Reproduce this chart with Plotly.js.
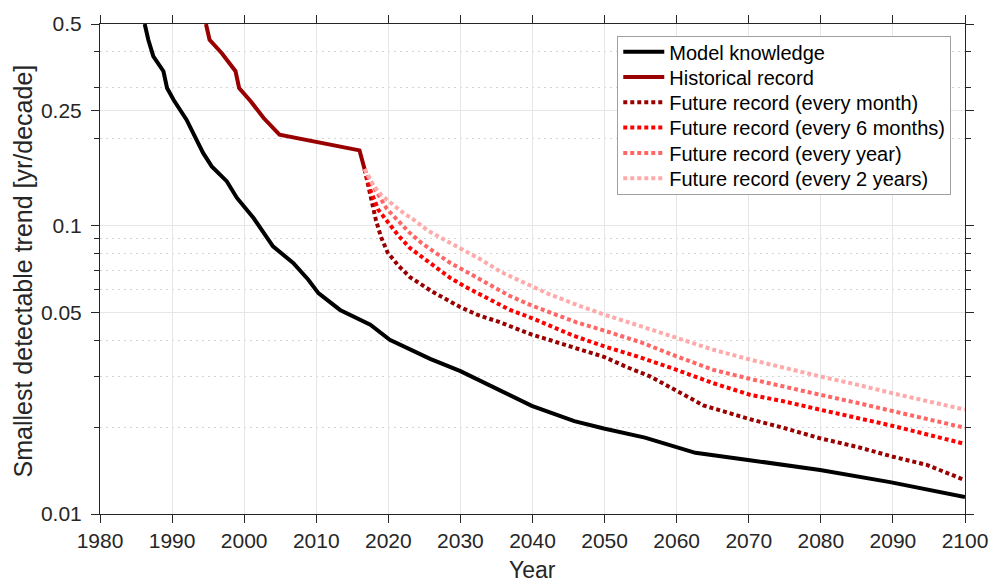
<!DOCTYPE html>
<html>
<head>
<meta charset="utf-8">
<script src="https://cdn.plot.ly/plotly-3.0.1.min.js"></script>
<style>html,body{margin:0;padding:0;background:#fff;}#chart{width:990px;height:581px;}</style>
</head>
<body>
<div id="chart"></div>
<script>
// Model knowledge
const modelYears = [1986.2, 1986.7, 1987.4, 1988.8, 1989.3, 1990.2, 1992.0, 1993.0, 1994.3, 1995.5, 1997.6, 1999.0, 2001.3, 2004.0, 2006.8, 2008.9, 2010.3, 2013.3, 2017.5, 2020.2, 2025.8, 2030.0, 2035.0, 2039.9, 2045.8, 2049.9, 2055.6, 2062.6, 2069.9, 2079.9, 2089.6, 2100];
const modelVals  = [0.5, 0.441, 0.386, 0.343, 0.300, 0.273, 0.233, 0.209, 0.1786, 0.1604, 0.1423, 0.1247, 0.1062, 0.0847, 0.0742, 0.0649, 0.0583, 0.0510, 0.0453, 0.0402, 0.0345, 0.0313, 0.0273, 0.0237, 0.0210, 0.0198, 0.0184, 0.0163, 0.0154, 0.0142, 0.0129, 0.01145];

// Historical record
const histYears = [1994.7, 1995.2, 1996.9, 1998.8, 1999.3, 2000.9, 2002.7, 2004.9, 2016.0, 2016.7];
const histVals  = [0.5, 0.441, 0.396, 0.343, 0.300, 0.270, 0.236, 0.2066, 0.1823, 0.157];

// Future record (every month)
const monthYears = [2016.7, 2017.2, 2017.7, 2018.3, 2019.0, 2019.9, 2021.4, 2023.0, 2026.0, 2029.9, 2032.3, 2035.5, 2039.9, 2044.3, 2047.5, 2050.0, 2053.1, 2056.3, 2059.5, 2061.4, 2063.7, 2066.9, 2070.2, 2074.8, 2079.9, 2085.0, 2090.0, 2094.7, 2097.5, 2100];
const monthVals  = [0.157, 0.139, 0.120, 0.104, 0.091, 0.0807, 0.0726, 0.0663, 0.0592, 0.0523, 0.0491, 0.0462, 0.0419, 0.0389, 0.0366, 0.0350, 0.0323, 0.0300, 0.0273, 0.0256, 0.0238, 0.0225, 0.0213, 0.0199, 0.0183, 0.0171, 0.0158, 0.0148, 0.0139, 0.0131];

// Future record (every 6 months)
const sixMonthYears = [2016.7, 2017.5, 2018.6, 2019.9, 2021.4, 2023.0, 2024.8, 2026.7, 2028.6, 2030.6, 2033.6, 2036.8, 2039.9, 2043.4, 2045.7, 2050.0, 2054.5, 2060.0, 2065.1, 2070.2, 2074.8, 2079.9, 2085.0, 2090.0, 2100];
const sixMonthVals  = [0.157, 0.133, 0.1135, 0.1035, 0.0923, 0.0836, 0.0772, 0.0713, 0.0658, 0.0615, 0.0561, 0.0511, 0.0478, 0.0440, 0.0415, 0.0381, 0.0352, 0.0316, 0.0284, 0.0259, 0.0246, 0.0230, 0.0215, 0.0202, 0.0175];

// Future record (every year)
const yearYears = [2016.7, 2018.2, 2019.8, 2021.4, 2022.9, 2024.6, 2026.7, 2028.6, 2030.6, 2033.6, 2036.8, 2039.9, 2043.4, 2046.1, 2050.0, 2055.0, 2060.0, 2065.1, 2070.2, 2074.8, 2079.9, 2085.0, 2090.0, 2100];
const yearVals  = [0.157, 0.133, 0.1142, 0.104, 0.0947, 0.0870, 0.0799, 0.0742, 0.0697, 0.0632, 0.0571, 0.0528, 0.0489, 0.0462, 0.0432, 0.0394, 0.0352, 0.0316, 0.0294, 0.0276, 0.0259, 0.0243, 0.0227, 0.0199];

// Future record (every 2 years)
const twoYearYears = [2016.7, 2017.9, 2019.1, 2020.0, 2021.8, 2023.7, 2025.5, 2027.6, 2029.7, 2032.7, 2035.7, 2039.0, 2042.2, 2046.4, 2050.0, 2055.0, 2060.0, 2065.1, 2070.2, 2074.8, 2079.9, 2085.0, 2090.0, 2100];
const twoYearVals  = [0.157, 0.138, 0.127, 0.1214, 0.112, 0.104, 0.096, 0.0898, 0.0843, 0.0766, 0.0689, 0.0629, 0.0580, 0.0528, 0.0491, 0.0448, 0.0407, 0.0371, 0.0343, 0.0321, 0.0300, 0.0281, 0.0262, 0.0230];

const names = ['Model knowledge', 'Historical record', 'Future record (every month)', 'Future record (every 6 months)', 'Future record (every year)', 'Future record (every 2 years)'];

const yTickVals = [0.01, 0.05, 0.1, 0.25, 0.5];
const yTickText = ['0.01', '0.05', '0.1', '0.25', '0.5'];
const yMinorVals = [0.02, 0.03, 0.04, 0.06, 0.07, 0.08, 0.09, 0.2, 0.3, 0.4];

const xTitle = 'Year';
const yTitle = 'Smallest detectable trend [yr/decade]';

const dotDash = '4px,3px';
const traces = [
  {x: modelYears, y: modelVals, name: names[0], mode: 'lines', line: {color: '#000000', width: 4}},
  {x: histYears, y: histVals, name: names[1], mode: 'lines', line: {color: '#990000', width: 4}},
  {x: monthYears, y: monthVals, name: names[2], mode: 'lines', line: {color: '#990000', width: 4, dash: dotDash}},
  {x: sixMonthYears, y: sixMonthVals, name: names[3], mode: 'lines', line: {color: '#ff0000', width: 4, dash: dotDash}},
  {x: yearYears, y: yearVals, name: names[4], mode: 'lines', line: {color: '#ff6666', width: 4, dash: dotDash}},
  {x: twoYearYears, y: twoYearVals, name: names[5], mode: 'lines', line: {color: '#ffaaaa', width: 4, dash: dotDash}}
];

const axCol = '#262626';
const font = 'Liberation Sans, Arial, sans-serif';
const layout = {
  width: 990, height: 581,
  margin: {l: 100, r: 25, t: 24, b: 67},
  paper_bgcolor: '#ffffff', plot_bgcolor: '#ffffff',
  font: {family: font, color: axCol, size: 21},
  showlegend: true,
  legend: {
    x: 0.598, y: 0.9755, xanchor: 'left', yanchor: 'top',
    bgcolor: '#ffffff', bordercolor: '#a0a0a0', borderwidth: 1,
    font: {family: font, size: 20, color: '#000000'},
    itemwidth: 41,
    tracegroupgap: 0
  },
  xaxis: {
    range: [1980, 2100], dtick: 10, tick0: 1980,
    ticks: 'outside', ticklen: 8, tickcolor: axCol, tickwidth: 1,
    showline: true, linecolor: axCol, linewidth: 1, mirror: 'ticks',
    showgrid: true, gridcolor: '#e6e6e6', gridwidth: 1,
    zeroline: false, ticklabelstandoff: 0,
    tickfont: {family: font, size: 21, color: axCol}
  },
  yaxis: {
    type: 'log', range: [-2, Math.log10(0.5)],
    tickmode: 'array', tickvals: yTickVals, ticktext: yTickText,
    ticks: 'outside', ticklen: 8, tickcolor: axCol, tickwidth: 1,
    showline: true, linecolor: axCol, linewidth: 1, mirror: 'ticks',
    showgrid: true, gridcolor: '#e6e6e6', gridwidth: 1,
    zeroline: false, ticklabelstandoff: 5,
    minor: {tickmode: 'array', tickvals: yMinorVals, ticks: 'outside', ticklen: 5, tickcolor: axCol,
            showgrid: true, gridcolor: '#d4d4d4', gridwidth: 1, griddash: '2px,4px'},
    tickfont: {family: font, size: 21, color: axCol}
  },
  annotations: [
    {text: xTitle, xref: 'paper', yref: 'paper', x: 0.5, y: -0.1145, xanchor: 'center', yanchor: 'middle',
     showarrow: false, font: {family: font, size: 23, color: axCol}},
    {text: yTitle, xref: 'paper', yref: 'paper', x: -0.0896, y: 0.496, xanchor: 'center', yanchor: 'middle',
     textangle: -90, showarrow: false, font: {family: font, size: 25, color: axCol}}
  ]
};

Plotly.newPlot('chart', traces, layout, {displayModeBar: false, staticPlot: true}).then(function (gd) {
  // tighten legend row spacing to match the reference
  const items = gd.querySelectorAll('.legend .traces');
  const rowGap = 25.3, firstY = 15.7;
  items.forEach(function (el, i) {
    const m = /translate\(([-\d.]+),\s*([-\d.]+)\)/.exec(el.getAttribute('transform') || '');
    const tx = m ? parseFloat(m[1]) : 0;
    el.setAttribute('transform', 'translate(' + tx + ',' + (firstY + i * rowGap) + ')');
  });
  const bg = gd.querySelector('.legend .bg');
  if (bg) bg.setAttribute('height', (2 * firstY + (items.length - 1) * rowGap).toFixed(1));
});
</script>
</body>
</html>
